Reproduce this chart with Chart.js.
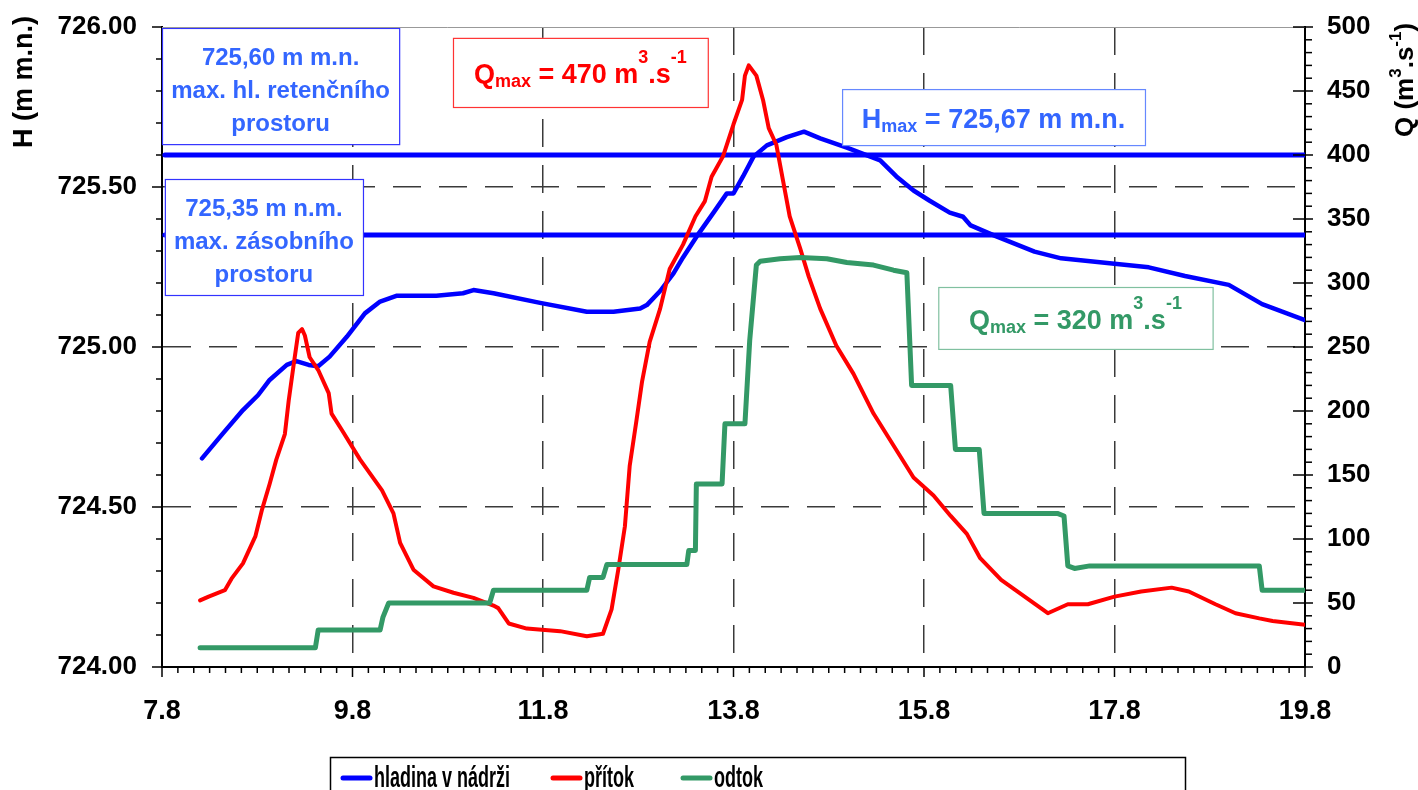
<!DOCTYPE html>
<html>
<head>
<meta charset="utf-8">
<script src="https://cdn.jsdelivr.net/npm/chart.js@4.4.0/dist/chart.umd.min.js"></script>
<style>
  html, body { margin: 0; padding: 0; background: #fff; }
  #wrap { width: 1418px; height: 790px; }
</style>
</head>
<body>
<div id="wrap"><canvas id="chart" width="1418" height="790"></canvas></div>
<script>
// hladina v nádrži (H, m n.m.)
const H_TIME = [8.22, 8.44, 8.65, 8.81, 8.93, 9.11, 9.21, 9.34, 9.44, 9.56, 9.74, 9.93, 10.09, 10.26, 10.68, 10.96, 11.07, 11.28, 11.77, 12.26, 12.54, 12.82, 12.89, 13.03, 13.17, 13.27, 13.41, 13.59, 13.73, 13.80, 13.90, 14.01, 14.15, 14.36, 14.54, 14.71, 14.99, 15.34, 15.51, 15.69, 15.86, 16.07, 16.21, 16.29, 16.54, 16.96, 17.24, 17.80, 18.16, 18.54, 19.00, 19.35, 19.80];
const H_VALUES = [724.652, 724.73, 724.803, 724.85, 724.897, 724.944, 724.956, 724.944, 724.94, 724.97, 725.032, 725.105, 725.142, 725.16, 725.16, 725.168, 725.178, 725.168, 725.138, 725.11, 725.11, 725.12, 725.131, 725.175, 725.23, 725.28, 725.344, 725.42, 725.48, 725.48, 725.533, 725.595, 725.63, 725.656, 725.673, 725.652, 725.623, 725.583, 725.533, 725.489, 725.457, 725.42, 725.407, 725.38, 725.348, 725.298, 725.277, 725.26, 725.249, 725.222, 725.194, 725.134, 725.084];

// přítok (Q, m3/s)
const IN_TIME = [8.20, 8.29, 8.46, 8.53, 8.65, 8.78, 8.85, 8.93, 9.00, 9.09, 9.13, 9.18, 9.23, 9.27, 9.30, 9.35, 9.44, 9.55, 9.58, 9.69, 9.88, 10.11, 10.23, 10.30, 10.44, 10.65, 10.86, 11.07, 11.28, 11.33, 11.44, 11.63, 11.98, 12.26, 12.43, 12.52, 12.59, 12.66, 12.71, 12.78, 12.84, 12.92, 13.03, 13.13, 13.27, 13.40, 13.50, 13.57, 13.69, 13.80, 13.89, 13.92, 13.96, 14.04, 14.11, 14.17, 14.25, 14.32, 14.39, 14.50, 14.59, 14.71, 14.88, 15.06, 15.27, 15.48, 15.69, 15.90, 16.08, 16.25, 16.39, 16.61, 16.82, 17.10, 17.31, 17.52, 17.80, 18.08, 18.40, 18.58, 18.86, 19.07, 19.32, 19.46, 19.80];
const IN_VALUES = [52, 55, 60, 69, 81, 102, 123, 143, 162, 182, 208, 235, 261, 264, 259, 242, 232, 214, 198, 185, 162, 138, 120, 97, 76, 63, 58, 54, 48, 46, 34, 30, 28, 24, 26, 45, 76, 110, 157, 192, 223, 254, 280, 311, 330, 352, 364, 383, 399, 424, 443, 462, 470, 462, 443, 421, 408, 380, 352, 327, 305, 280, 251, 229, 198, 173, 148, 134, 118, 104, 85, 68, 57, 42, 49, 49, 55, 59, 62, 59, 49, 42, 38, 36, 33];

// odtok (Q, m3/s)
const OUT_TIME = [8.20, 9.41, 9.44, 10.09, 10.12, 10.18, 11.24, 11.28, 12.26, 12.29, 12.43, 12.47, 13.31, 13.33, 13.40, 13.41, 13.68, 13.71, 13.92, 13.97, 14.04, 14.08, 14.29, 14.50, 14.78, 14.99, 15.27, 15.48, 15.62, 15.67, 16.08, 16.13, 16.38, 16.43, 17.20, 17.27, 17.31, 17.38, 17.54, 19.32, 19.35, 19.80];
const OUT_VALUES = [15, 15, 29, 29, 39, 50, 50, 60, 60, 70, 70, 80, 80, 91, 91, 143, 143, 190, 190, 255, 314, 317, 319, 320, 319, 316, 314, 310, 308, 220, 220, 170, 170, 120, 120, 118, 79, 77, 79, 79, 60, 60];

// hranice prostorů (m n.m.)
const LIMIT_TIME = [7.83, 19.8];
const LIMIT_RETENCE = [725.60, 725.60];
const LIMIT_ZASOBNI = [725.35, 725.35];

const SERIES_LABELS = ['hladina v nádrži', 'přítok', 'odtok'];
const X_RANGE = [7.8, 19.8];
const H_RANGE = [724, 726];
const Q_RANGE = [0, 500];

const FONT = '"Liberation Sans", Arial, sans-serif';
const BLUE = '#0000ff', RED = '#ff0000', GREEN = '#339966';
Chart.defaults.font.family = FONT;

const pts = (xs, ys) => xs.map((x, i) => ({ x, y: ys[i] }));

function richText(ctx, parts, x, y, align) {
    let total = 0;
    parts.forEach(p => { ctx.font = `bold ${p[1]}px ${FONT}`; total += ctx.measureText(p[0]).width; });
    let cx = align === 'center' ? x - total / 2 : x;
    parts.forEach(p => {
        ctx.font = `bold ${p[1]}px ${FONT}`;
        ctx.fillText(p[0], cx, y + (p[2] || 0));
        cx += ctx.measureText(p[0]).width;
    });
}

// annotation boxes in data units (hours / m n.m.)
const NOTES = [
    { x: [7.8, 10.29], y: [725.997, 725.634], stroke: '#3333ff', color: '#3366ff',
      lines: [[['725,60 m m.n.', 24]], [['max. hl. retenčního', 24]], [['prostoru', 24]]] },
    { x: [7.83, 9.91], y: [725.525, 725.1625], stroke: '#3333ff', color: '#3366ff',
      lines: [[['725,35 m n.m.', 24]], [['max. zásobního', 24]], [['prostoru', 24]]] },
    { x: [10.855, 13.53], y: [725.966, 725.75], stroke: '#ff3333', color: RED,
      lines: [[['Q', 27], ['max', 18, 4], [' = 470 m', 27], ['3', 18, -20], ['.s', 27], ['-1', 18, -20]]] },
    { x: [14.94, 18.12], y: [725.806, 725.631], stroke: '#6688ff', color: '#3366ff',
      lines: [[['H', 27], ['max', 18, 4], [' = 725,67 m m.n.', 27]]] },
    { x: [15.95, 18.83], y: [725.1875, 724.994], stroke: '#80c0a0', color: GREEN,
      lines: [[['Q', 27], ['max', 18, 4], [' = 320 m', 27], ['3', 18, -20], ['.s', 27], ['-1', 18, -20]]] }
];

const decor = {
    id: 'decor',
    afterDatasetsDraw(chart) {
        const ctx = chart.ctx, xs = chart.scales.x, yh = chart.scales.yH;
        ctx.save();
        NOTES.forEach(n => {
            const l = xs.getPixelForValue(n.x[0]), r = xs.getPixelForValue(n.x[1]);
            const t = yh.getPixelForValue(n.y[0]), b = yh.getPixelForValue(n.y[1]);
            ctx.fillStyle = '#fff';
            ctx.fillRect(l, t, r - l, b - t);
            ctx.strokeStyle = n.stroke; ctx.lineWidth = 1.2;
            ctx.strokeRect(l + 0.5, t + 0.5, r - l, b - t);
            ctx.fillStyle = n.color;
            ctx.textBaseline = 'alphabetic';
            const cx = (l + r) / 2;
            if (n.lines.length === 1) {
                richText(ctx, n.lines[0], cx, (t + b) / 2 + 11, 'center');
            } else {
                n.lines.forEach((ln, i) => richText(ctx, ln, cx, t + 28 + 33 * i + 9, 'center'));
            }
        });
        ctx.restore();
    },
    afterDraw(chart) {
        const ctx = chart.ctx, a = chart.chartArea;
        const xs = chart.scales.x, yh = chart.scales.yH, yq = chart.scales.yQ;
        ctx.save();
        // top frame line
        ctx.strokeStyle = '#999'; ctx.lineWidth = 1;
        ctx.beginPath(); ctx.moveTo(a.left, a.top + 0.5); ctx.lineTo(a.right, a.top + 0.5); ctx.stroke();
        // tick marks
        ctx.strokeStyle = '#000'; ctx.lineWidth = 1.5;
        const seg = (x1, y1, x2, y2) => { ctx.beginPath(); ctx.moveTo(x1, y1); ctx.lineTo(x2, y2); ctx.stroke(); };
        for (let i = 0; i <= 20; i++) {
            const y = yh.getPixelForValue(H_RANGE[0] + i * 0.1);
            seg(a.left - (i % 5 === 0 ? 10 : 6), y, a.left, y);
        }
        for (let i = 0; i <= 50; i++) {
            const y = yq.getPixelForValue(i * 10);
            if (i % 5 === 0) seg(a.right - 12, y, a.right + 8, y);
            else seg(a.right, y, a.right + 7, y);
        }
        for (let i = 0; i <= 72; i++) {
            const x = xs.getPixelForValue(X_RANGE[0] + i / 6);
            seg(x, a.bottom, x, a.bottom + (i % 12 === 0 ? 10 : 6));
        }
        // axis titles
        ctx.fillStyle = '#000';
        ctx.textBaseline = 'alphabetic';
        ctx.save();
        ctx.translate(32, 148); ctx.rotate(-Math.PI / 2);
        richText(ctx, [['H (m m.n.)', 27]], 0, 0, 'left');
        ctx.restore();
        ctx.save();
        ctx.translate(1413, 137); ctx.rotate(-Math.PI / 2);
        richText(ctx, [['Q (m', 26], ['3', 17, -12], ['.s', 26], ['-1', 17, -12], [')', 26]], 0, 0, 'left');
        ctx.restore();
        // legend
        const lx = [343, 553, 683];
        ctx.strokeStyle = '#000'; ctx.lineWidth = 1.5;
        ctx.strokeRect(330.5, 757.5, 855, 60);
        chart.data.datasets.slice(0, 3).forEach((ds, i) => {
            ctx.strokeStyle = ds.borderColor; ctx.lineWidth = 5; ctx.lineCap = 'round';
            seg(lx[i], 778, lx[i] + 27, 778);
            ctx.save();
            ctx.translate(lx[i] + 31, 787); ctx.scale(0.62, 1);
            ctx.fillStyle = '#000';
            ctx.font = `bold 29px ${FONT}`;
            ctx.fillText(ds.label, 0, 0);
            ctx.restore();
        });
        ctx.restore();
    }
};

const lineDs = (label, data, color, width, axis, order) => ({
    label, data, borderColor: color, backgroundColor: color, borderWidth: width,
    yAxisID: axis, order, pointRadius: 0, tension: 0, fill: false,
    borderJoinStyle: 'round', borderCapStyle: 'round'
});

const gridColor = c => (c.tick && c.tick.value === H_RANGE[1]) ? 'rgba(0,0,0,0)' : '#3a3a3a';

// fixed axis sizes so the plot area sits where the original has it
const fitY = w => s => { s.width = w; s.paddingTop = 0; s.paddingBottom = 0; };

new Chart(document.getElementById('chart'), {
    type: 'line',
    data: {
        datasets: [
            lineDs(SERIES_LABELS[0], pts(H_TIME, H_VALUES), BLUE, 4.5, 'yH', 3),
            lineDs(SERIES_LABELS[1], pts(IN_TIME, IN_VALUES), RED, 4, 'yQ', 2),
            lineDs(SERIES_LABELS[2], pts(OUT_TIME, OUT_VALUES), GREEN, 5, 'yQ', 1),
            lineDs('retenční', pts(LIMIT_TIME, LIMIT_RETENCE), BLUE, 5, 'yH', 4),
            lineDs('zásobní', pts(LIMIT_TIME, LIMIT_ZASOBNI), BLUE, 5, 'yH', 4)
        ]
    },
    options: {
        responsive: false, animation: false,
        layout: { padding: { top: 27, left: 0, right: 0, bottom: 0 } },
        plugins: { legend: { display: false }, tooltip: { enabled: false }, title: { display: false } },
        scales: {
            x: {
                type: 'linear', min: X_RANGE[0], max: X_RANGE[1],
                ticks: { stepSize: 2, padding: 28, color: '#000', font: { size: 27, weight: 'bold' }, maxRotation: 0, autoSkip: false, callback: v => v.toFixed(1) },
                grid: { color: '#3a3a3a', lineWidth: 1.5, drawTicks: false },
                border: { color: '#000', width: 2, dash: [28, 18] },
                afterFit: s => { s.height = 123; s.paddingLeft = 0; s.paddingRight = 0; }
            },
            yH: {
                type: 'linear', position: 'left', min: H_RANGE[0], max: H_RANGE[1],
                ticks: { stepSize: 0.5, padding: 25, color: '#000', font: { size: 26, weight: 'bold' }, callback: v => v.toFixed(2) },
                grid: { color: gridColor, lineWidth: 1.5, drawTicks: false },
                border: { color: '#000', width: 2, dash: [28, 18] },
                afterFit: fitY(162)
            },
            yQ: {
                type: 'linear', position: 'right', min: Q_RANGE[0], max: Q_RANGE[1],
                ticks: { stepSize: 50, padding: 22, color: '#000', font: { size: 26, weight: 'bold' } },
                grid: { drawOnChartArea: false, drawTicks: false },
                border: { color: '#000', width: 2 },
                afterFit: fitY(113)
            }
        }
    },
    plugins: [decor]
});
</script>
</body>
</html>
